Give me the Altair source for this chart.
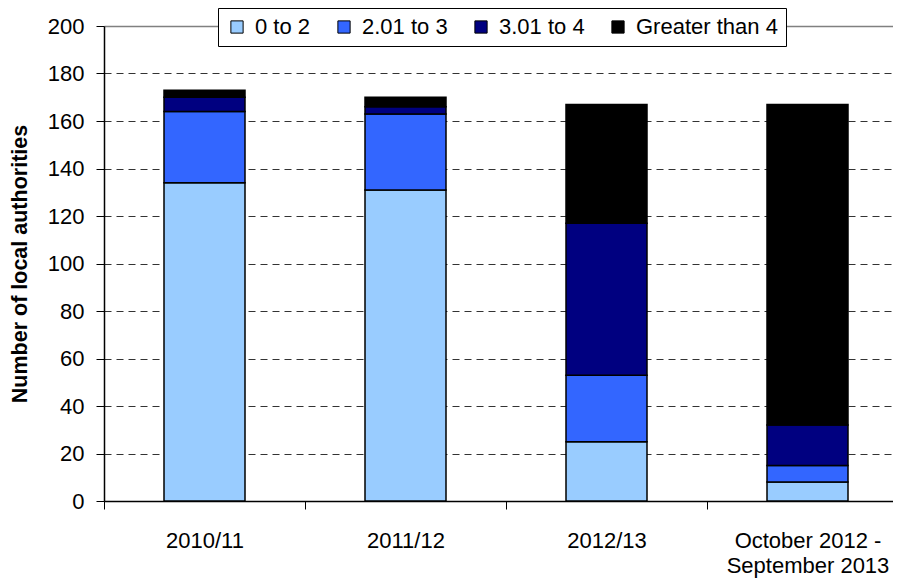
import altair as alt
import pandas as pd

categories = ["2010/11", "2011/12", "2012/13", "October 2012 - September 2013"]
bands = ["0 to 2", "2.01 to 3", "3.01 to 4", "Greater than 4"]
colors = ["#99CCFF", "#3366FF", "#000080", "#000000"]

v_0_2 = [134, 131, 25, 8]
v_2_3 = [30, 32, 28, 7]
v_3_4 = [6, 3, 64, 17]
v_gt4 = [3, 4, 50, 135]

series = [v_0_2, v_2_3, v_3_4, v_gt4]
rows = []
for bi, (band, vals) in enumerate(zip(bands, series)):
    for cat, v in zip(categories, vals):
        rows.append({"period": cat, "band": band, "order": bi, "value": v})
df = pd.DataFrame(rows)

FONT = "Liberation Sans"

label_expr = ("datum.label == 'October 2012 - September 2013' ? "
              "['October 2012 -', 'September 2013'] : datum.label")

chart = alt.Chart(df).mark_bar(size=81, stroke="black", strokeWidth=1.5).encode(
    x=alt.X("period:N", sort=categories,
            scale=alt.Scale(paddingInner=0, paddingOuter=0, range=[0, 804]),
            axis=alt.Axis(title=None, labelAngle=0, tickBand="extent", tickSize=8,
                          labelPadding=21, labelExpr=label_expr, labelLineHeight=25,
                          labelFontSize=22, labelFont=FONT, labelColor="black",
                          domainColor="black", tickColor="black", domainWidth=1.5,
                          labelLimit=0)),
    y=alt.Y("value:Q", stack="zero",
            scale=alt.Scale(domain=[0, 200]),
            axis=alt.Axis(title="Number of local authorities", values=list(range(0, 201, 20)),
                          tickSize=8, labelPadding=12, labelFontSize=22, labelFont=FONT,
                          labelColor="black", titleFont=FONT, titleFontSize=21.5,
                          titleFontWeight="bold", titleColor="black",
                          titleX=-84, titleY=237.5, titleAngle=270, titleAlign="center",
                          titleBaseline="middle",
                          domainColor="black", tickColor="black", domainWidth=1.5,
                          grid=True,
                          gridDash=alt.condition("datum.value == 200", alt.value([]), alt.value([7, 5])),
                          gridColor=alt.condition("datum.value == 200", alt.value("#808080"), alt.value("#333333")),
                          gridWidth=alt.condition("datum.value == 200", alt.value(1.5), alt.value(1)))),
    color=alt.Color("band:N", sort=bands,
                    scale=alt.Scale(domain=bands, range=colors),
                    legend=alt.Legend(title=None, orient="none", legendX=114, legendY=-18,
                                      direction="horizontal", columns=4, columnPadding=22,
                                      symbolType="square", symbolSize=150,
                                      symbolStrokeColor="black", symbolStrokeWidth=1,
                                      labelFontSize=22, labelFont=FONT, labelColor="black",
                                      labelLimit=0, padding=8, strokeColor="black",
                                      fillColor="white", labelOffset=7)),
    order=alt.Order("order:Q"),
).properties(
    width=789, height=475,
    autosize=alt.AutoSizeParams(type="none"),
    padding={"left": 96, "top": 18, "right": 0, "bottom": 78},
).configure_view(
    strokeWidth=0
).configure(background="white")

chart.save("out.html", embed_options={"renderer": "svg", "actions": False})
